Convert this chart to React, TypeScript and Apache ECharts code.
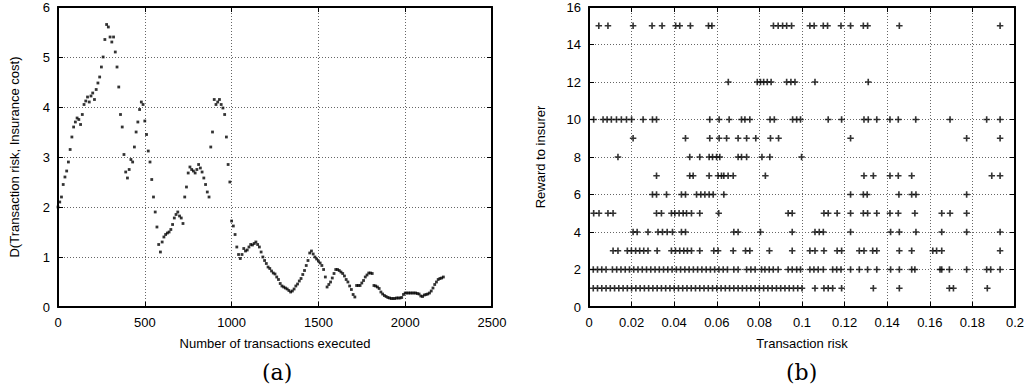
import React, { useEffect, useRef } from "react";
import * as echarts from "echarts";

// ---------- Panel (a): D(Transaction risk, Insurance cost) sampled every 10 transactions ----------
const TX_STEP = 10;
const dValues = [
  2.0, 2.1, 2.2, 2.45, 2.6, 2.72, 2.9, 3.15, 3.4, 3.6,
  3.7, 3.78, 3.75, 3.65, 3.85, 4.05, 4.12, 4.2, 4.1, 4.22,
  4.28, 4.15, 4.35, 4.48, 4.6, 4.8, 5.0, 5.35, 5.65, 5.6,
  5.4, 5.3, 5.4, 5.1, 4.8, 4.4, 3.85, 3.6, 3.05, 2.7,
  2.58, 2.75, 2.95, 2.9, 3.2, 3.5, 3.7, 3.95, 4.1, 4.05,
  3.72, 3.45, 3.12, 2.9, 2.55, 2.2, 1.9, 1.6, 1.25, 1.1,
  1.3, 1.4, 1.45, 1.48, 1.5, 1.55, 1.65, 1.78, 1.85, 1.9,
  1.82, 1.78, 1.67, 2.2, 2.4, 2.68, 2.8, 2.75, 2.72, 2.68,
  2.75, 2.85, 2.78, 2.7, 2.58, 2.45, 2.3, 2.2, 3.2, 3.5,
  4.15, 4.05, 4.1, 4.15, 4.05, 3.98, 3.85, 3.4, 2.85, 2.5,
  1.72, 1.62, 1.45, 1.2, 1.05, 0.97, 1.05, 1.17, 1.12, 1.14,
  1.2, 1.25, 1.24, 1.27, 1.3, 1.25, 1.2, 1.1, 1.0, 0.93,
  0.87, 0.8, 0.77, 0.72, 0.68, 0.66, 0.6, 0.55, 0.47, 0.42,
  0.4, 0.38, 0.36, 0.33, 0.3, 0.32, 0.36, 0.42, 0.46, 0.52,
  0.57, 0.65, 0.73, 0.83, 0.93, 1.08, 1.12, 1.06, 1.0, 0.96,
  0.92, 0.88, 0.83, 0.75, 0.6, 0.4, 0.45, 0.5, 0.58, 0.67,
  0.75, 0.75, 0.73, 0.7, 0.67, 0.62, 0.55, 0.5, 0.42, 0.35,
  0.25, 0.2, 0.43, 0.43, 0.43, 0.48, 0.53, 0.6, 0.64, 0.68,
  0.68, 0.67, 0.43, 0.42, 0.4, 0.37, 0.3, 0.26, 0.23, 0.21,
  0.19, 0.18, 0.17, 0.17, 0.17, 0.18, 0.18, 0.18, 0.19, 0.25,
  0.28, 0.28, 0.28, 0.28, 0.28, 0.28, 0.28, 0.27, 0.26, 0.22,
  0.21, 0.24, 0.25, 0.26, 0.28, 0.32, 0.38, 0.45, 0.5, 0.55,
  0.57, 0.58, 0.6,
];

// ---------- Panel (b): transaction risk values per reward level ----------
const rewardLevels = [15, 12, 10, 9, 8, 7, 6, 5, 4, 3, 2, 1];
const risk15 = [0.0046, 0.0089, 0.0207, 0.0296, 0.0343, 0.0407, 0.0426, 0.0476, 0.0561, 0.0577,
  0.0866, 0.0888, 0.0909, 0.0928, 0.0951, 0.1037, 0.1057, 0.110, 0.112, 0.1183, 0.1228, 0.1288, 0.1308, 0.1457, 0.193];
const risk12 = [0.0654, 0.079, 0.0805, 0.082, 0.0837, 0.0855, 0.0928, 0.0948, 0.0967, 0.1061, 0.1311];
const risk10 = [0.0022, 0.0066, 0.0085, 0.0105, 0.0129, 0.0152, 0.0176, 0.02, 0.0254, 0.0298, 0.0317,
  0.0567, 0.0611, 0.0658, 0.0716, 0.0732, 0.0755, 0.085, 0.087, 0.0956, 0.0975, 0.0993, 0.1123, 0.1186,
  0.1291, 0.1311, 0.1351, 0.1413, 0.1452, 0.1534, 0.1695, 0.1867, 0.193];
const risk9 = [0.0207, 0.0453, 0.0567, 0.0611, 0.0646, 0.07, 0.074, 0.0783, 0.0852, 0.089, 0.1228, 0.1773, 0.193];
const risk8 = [0.0136, 0.0473, 0.052, 0.0564, 0.058, 0.0599, 0.0614, 0.07, 0.0716, 0.074, 0.0812, 0.0849, 0.0998];
const risk7 = [0.0317, 0.0473, 0.0489, 0.0564, 0.0606, 0.0622, 0.0633, 0.0653, 0.0677, 0.0828,
  0.1291, 0.1335, 0.1413, 0.1452, 0.1515, 0.1891, 0.193];
const risk6 = [0.0298, 0.0317, 0.0364, 0.0434, 0.0453, 0.0505, 0.0525, 0.0544, 0.0564, 0.0583, 0.0633,
  0.1228, 0.1288, 0.1306, 0.1455, 0.1515, 0.1535, 0.1773];
const risk5 = [0.0022, 0.0047, 0.0089, 0.0113, 0.0317, 0.034, 0.0387, 0.0403, 0.0423, 0.0442, 0.0458,
  0.0481, 0.052, 0.0609, 0.0935, 0.0954, 0.1103, 0.1123, 0.1165, 0.1228, 0.1288, 0.1308, 0.1351,
  0.1413, 0.1452, 0.153, 0.1656, 0.1695, 0.1773];
const risk4 = [0.0207, 0.0226, 0.0277, 0.0324, 0.0345, 0.0367, 0.0392, 0.0434, 0.0453, 0.068, 0.07,
  0.0805, 0.0954, 0.1061, 0.1081, 0.11, 0.1228, 0.1416, 0.1457, 0.1535, 0.1656, 0.1773, 0.193];
const risk3 = [0.0113, 0.0136, 0.018, 0.0199, 0.0219, 0.0238, 0.0257, 0.0277, 0.032, 0.0387, 0.0406,
  0.0426, 0.0445, 0.0462, 0.0481, 0.052, 0.0586, 0.0606, 0.0677, 0.0735, 0.0755, 0.0847, 0.0954,
  0.1037, 0.1061, 0.1103, 0.1165, 0.1186, 0.1269, 0.1291, 0.1332, 0.1351, 0.1457, 0.1515, 0.1614,
  0.1632, 0.1656, 0.193];
const risk2 = [0.002, 0.004, 0.006, 0.008, 0.011, 0.013, 0.015, 0.017, 0.019, 0.021, 0.023, 0.025,
  0.027, 0.029, 0.031, 0.033, 0.035, 0.037, 0.039, 0.041, 0.043, 0.045, 0.047, 0.049, 0.051, 0.053,
  0.055, 0.057, 0.059, 0.061, 0.063, 0.065, 0.068, 0.070, 0.074, 0.076, 0.078, 0.081, 0.0826, 0.0846,
  0.0865, 0.0888, 0.0935, 0.0954, 0.0975, 0.0993, 0.1037, 0.1056, 0.1076, 0.11, 0.1144, 0.1163,
  0.1183, 0.1228, 0.1269, 0.1308, 0.1351, 0.1416, 0.1457, 0.1515, 0.153, 0.1648, 0.1656, 0.1692,
  0.1773, 0.1867, 0.1886, 0.193];
const risk1 = [0.002, 0.004, 0.006, 0.008, 0.010, 0.012, 0.014, 0.016, 0.018, 0.020, 0.022, 0.024,
  0.026, 0.028, 0.030, 0.032, 0.034, 0.036, 0.038, 0.040, 0.042, 0.044, 0.046, 0.048, 0.050, 0.052,
  0.054, 0.056, 0.058, 0.060, 0.062, 0.064, 0.066, 0.068, 0.070, 0.072, 0.074, 0.076, 0.078, 0.080,
  0.082, 0.084, 0.086, 0.088, 0.090, 0.092, 0.094, 0.096, 0.098, 0.100, 0.1061, 0.1103, 0.1123,
  0.1144, 0.1186, 0.1335, 0.1457, 0.1692, 0.1711, 0.187];
const risksByLevel = [risk15, risk12, risk10, risk9, risk8, risk7, risk6, risk5, risk4, risk3, risk2, risk1];

const PLUS = "path://M-0.25,-1H0.25V-0.25H1V0.25H0.25V1H-0.25V0.25H-1V-0.25H-0.25Z";

export default function App() {
  const ref = useRef<HTMLDivElement>(null);
  useEffect(() => {
    if (!ref.current) return;
    const chart = echarts.init(ref.current, undefined, { renderer: "svg" });
    const font = "Liberation Sans";
    const labelStyle = { color: "#000", fontSize: 13, fontFamily: font };
    const gridLine = { show: true, lineStyle: { color: "#666", width: 1, type: [1, 2] as any } };
    const tick = { show: true, inside: true, length: 5, lineStyle: { color: "#000", width: 1 } };
    const axisLine = { show: true, onZero: false, lineStyle: { color: "#000", width: 2 } };

    const seriesA = dValues.map((v, i) => [i * TX_STEP, v]);
    const seriesB: number[][] = [];
    rewardLevels.forEach((lvl, k) => {
      risksByLevel[k].forEach((r) => seriesB.push([r, lvl]));
    });

    const mkX = (gridIndex: number, min: number, max: number, interval: number, name: string, fmt: any) => [
      {
        type: "value", gridIndex, min, max, interval, position: "bottom",
        name, nameLocation: "middle", nameGap: 30,
        nameTextStyle: { color: "#000", fontSize: 13, fontFamily: font },
        axisLine, axisTick: tick,
        axisLabel: { ...labelStyle, margin: 9, formatter: fmt },
        splitLine: gridLine,
      },
      {
        type: "value", gridIndex, min, max, interval, position: "top",
        axisLine, axisTick: tick, axisLabel: { show: false }, splitLine: { show: false },
      },
    ];
    const mkY = (gridIndex: number, min: number, max: number, interval: number, name: string, gap: number) => [
      {
        type: "value", gridIndex, min, max, interval, position: "left",
        name, nameLocation: "middle", nameGap: gap,
        nameTextStyle: { color: "#000", fontSize: 13, fontFamily: font },
        axisLine, axisTick: tick,
        axisLabel: { ...labelStyle, margin: 8, formatter: (v: number) => String(v) },
        splitLine: gridLine,
      },
      {
        type: "value", gridIndex, min, max, interval, position: "right",
        axisLine, axisTick: tick, axisLabel: { show: false }, splitLine: { show: false },
      },
    ];

    chart.setOption({
      animation: false,
      backgroundColor: "#fff",
      grid: [
        { left: 58, top: 7, width: 434, height: 300 },
        { left: 589, top: 7, width: 426, height: 300 },
      ],
      xAxis: [
        ...mkX(0, 0, 2500, 500, "Number of transactions executed", (v: number) => String(v)),
        ...mkX(1, 0, 0.2, 0.02, "Transaction risk", (v: number) => String(parseFloat(v.toFixed(2)))),
      ],
      yAxis: [
        ...mkY(0, 0, 6, 1, "D(Transaction risk, Insurance cost)", 37),
        ...mkY(1, 0, 16, 2, "Reward to insurer", 42),
      ],
      graphic: [
        { type: "text", left: 262, top: 361, style: { text: "(a)", fontSize: 22, fontFamily: "DejaVu Serif", fill: "#000" } },
        { type: "text", left: 786, top: 361, style: { text: "(b)", fontSize: 22, fontFamily: "DejaVu Serif", fill: "#000" } },
      ],
      series: [
        {
          type: "scatter", xAxisIndex: 0, yAxisIndex: 0, data: seriesA,
          symbol: "rect", symbolSize: 2.8, itemStyle: { color: "#000" },
        },
        {
          type: "scatter", xAxisIndex: 2, yAxisIndex: 2, data: seriesB,
          symbol: PLUS, symbolSize: 6.5, itemStyle: { color: "#000" },
        },
      ],
    });
    return () => chart.dispose();
  }, []);
  return <div ref={ref} style={{ position: "fixed", left: 0, top: 0, width: 1029, height: 392, background: "#fff" }} />;
}
